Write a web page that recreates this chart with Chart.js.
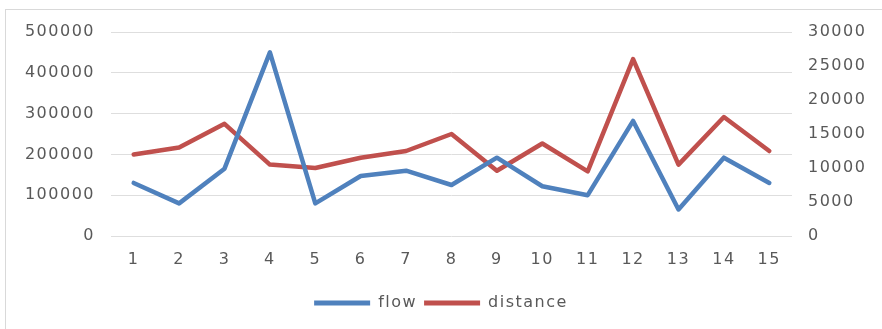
<!DOCTYPE html>
<html>
<head>
<meta charset="utf-8">
<script src="https://cdn.jsdelivr.net/npm/chart.js@4"></script>
<style>
  html, body { margin: 0; padding: 0; background: #fff; }
  #wrap { position: relative; width: 882px; height: 329px; overflow: hidden; }
  #frame { position: absolute; left: 5px; top: 9px; width: 900px; height: 400px; border: 1px solid #d9d9d9; box-sizing: border-box; }
  canvas { position: absolute; left: 0; top: 0; }
</style>
</head>
<body>
<div id="wrap">
  <div id="frame"></div>
  <canvas id="c" width="882" height="329"></canvas>
</div>
<script>
const categories = ['1','2','3','4','5','6','7','8','9','10','11','12','13','14','15'];
const flow = [130000, 80000, 165000, 450000, 80000, 147000, 160000, 125000, 192000, 122000, 100000, 282000, 65000, 192000, 130000];
const distance = [12000, 13000, 16500, 10500, 10000, 11500, 12500, 15000, 9600, 13600, 9500, 26000, 10500, 17500, 12500];
const flowTicks = [0, 100000, 200000, 300000, 400000, 500000];
const distanceTicks = [0, 5000, 10000, 15000, 20000, 25000, 30000];

const textColor = '#595959';
const font = { family: 'DejaVu Sans', size: 16 };

// slightly tracked-out lettering for every canvas text
const spacing = {
  id: 'spacing',
  beforeLayout(chart) { chart.ctx.letterSpacing = '1.5px'; },
  beforeDraw(chart) { chart.ctx.letterSpacing = '1.5px'; }
};

const plain = v => String(v);

new Chart(document.getElementById('c'), {
  type: 'line',
  data: {
    labels: categories,
    datasets: [
      { label: 'flow', data: flow, yAxisID: 'y', borderColor: '#4F81BD', backgroundColor: '#4F81BD',
        borderWidth: 4.5, pointRadius: 0, borderJoinStyle: 'round', borderCapStyle: 'round', tension: 0 },
      { label: 'distance', data: distance, yAxisID: 'y1', borderColor: '#C0504D', backgroundColor: '#C0504D',
        borderWidth: 4.5, pointRadius: 0, borderJoinStyle: 'round', borderCapStyle: 'round', tension: 0 }
    ]
  },
  options: {
    responsive: false,
    animation: false,
    devicePixelRatio: 1,
    layout: { padding: { top: 32, bottom: 8, left: 0, right: 0 } },
    plugins: {
      tooltip: { enabled: false },
      legend: {
        position: 'bottom',
        labels: {
          color: textColor, font: font, boxWidth: 56, boxHeight: 5, padding: 7,
          generateLabels(chart) {
            return chart.data.datasets.map((d, i) => ({
              text: d.label, fillStyle: d.borderColor, strokeStyle: d.borderColor,
              lineWidth: 0, hidden: false, datasetIndex: i, fontColor: textColor
            }));
          }
        }
      }
    },
    scales: {
      x: {
        offset: true,
        grid: { display: false },
        border: { display: false },
        ticks: { color: textColor, font: font, padding: 6, maxRotation: 0 },
        afterFit(s) { s.height = 52; }
      },
      y: {
        position: 'left',
        min: flowTicks[0], max: flowTicks[flowTicks.length - 1],
        afterBuildTicks(s) { s.ticks = flowTicks.map(v => ({ value: v })); },
        grid: { color: '#dedede', lineWidth: 1, drawTicks: false },
        border: { display: false },
        ticks: { color: textColor, font: font, padding: 16, callback: plain },
        afterFit(s) { s.width = 111; }
      },
      y1: {
        position: 'right',
        min: distanceTicks[0], max: distanceTicks[distanceTicks.length - 1],
        afterBuildTicks(s) { s.ticks = distanceTicks.map(v => ({ value: v })); },
        grid: { display: false, drawOnChartArea: false, drawTicks: false },
        border: { display: false },
        ticks: { color: textColor, font: font, padding: 16, callback: plain },
        afterFit(s) { s.width = 90; }
      }
    }
  },
  plugins: [spacing]
});
</script>
</body>
</html>
